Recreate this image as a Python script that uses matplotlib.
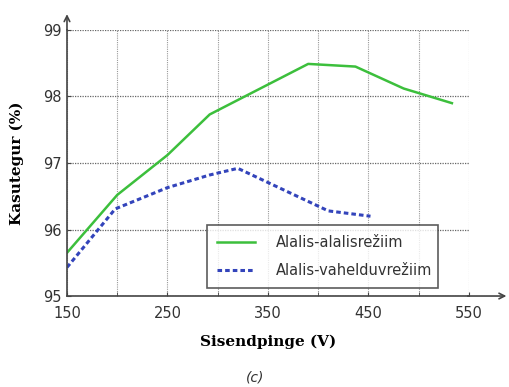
import matplotlib
matplotlib.use("Agg")
import matplotlib.pyplot as plt

x_green = [150, 200, 250, 292, 390, 437, 485, 533]
y_green = [95.65, 96.52, 97.12, 97.73, 98.49, 98.45, 98.12, 97.9]
x_blue = [150, 198, 250, 292, 320, 410, 452]
y_blue = [95.43, 96.31, 96.63, 96.82, 96.92, 96.28, 96.2]
label_green = "Alalis-alalisrežiim"
label_blue = "Alalis-vahelduvrežiim"
xticks = [150, 250, 350, 450, 550]
yticks = [95, 96, 97, 98, 99]

fig = plt.figure(figsize=(5.09, 3.87), dpi=100)
ax = fig.add_axes([0.1316, 0.2351, 0.7898, 0.6874])
ax.set_xlim(150, 550)
ax.set_ylim(95, 99)
ax.plot(x_green, y_green, color="#3cbf3c", lw=1.8, label=label_green)
ax.plot(x_blue, y_blue, color="#3344bb", lw=2.2, ls=(0, (1.5, 1.0)), label=label_blue)

ax.set_xticks(xticks)
ax.set_xticks(range(150, 551, 50), minor=True)
ax.set_yticks(yticks)
for v in range(150, 551, 50):
    ax.axvline(v, color="#999999", lw=0.8, ls=(0, (1, 1)), zorder=0)
for v in yticks:
    ax.axhline(v, color="#666666", lw=0.9, ls=(0, (1, 1)), zorder=0)
ax.tick_params(axis="both", which="both", direction="in", length=3, color="#444444",
               labelsize=10.5, labelcolor="#333333")
ax.tick_params(axis="x", pad=7)
for s in ["top", "right"]:
    ax.spines[s].set_visible(False)
for s in ["left", "bottom"]:
    ax.spines[s].set_color("#444444")
    ax.spines[s].set_linewidth(1.2)
ax.annotate("", xy=(1.1, 0), xytext=(0.99, 0), xycoords="axes fraction",
            arrowprops=dict(arrowstyle="->", color="#444444", lw=1.2), annotation_clip=False)
ax.annotate("", xy=(0, 1.07), xytext=(0, 0.99), xycoords="axes fraction",
            arrowprops=dict(arrowstyle="->", color="#444444", lw=1.2), annotation_clip=False)

ax.set_xlabel("Sisendpinge (V)", fontsize=11, fontweight="bold", family="DejaVu Serif", labelpad=10)
ax.set_ylabel("Kasutegur (%)", fontsize=11, fontweight="bold", family="DejaVu Serif", labelpad=14)

leg = ax.legend(loc="lower left", bbox_to_anchor=(0.348, 0.03, 0.575, 0.237), mode="expand",
                borderaxespad=0, fontsize=10.5, frameon=True, fancybox=False, edgecolor="#333333",
                handlelength=2.6, borderpad=0.7, labelspacing=0.85, handletextpad=1.4)
leg.get_frame().set_linewidth(1.2)
for t in leg.get_texts():
    t.set_color("#333333")

fig.text(0.501, 0.015, "(c)", fontsize=10, style="italic", ha="center", color="#333333")
fig.savefig("out.png", dpi=100)
